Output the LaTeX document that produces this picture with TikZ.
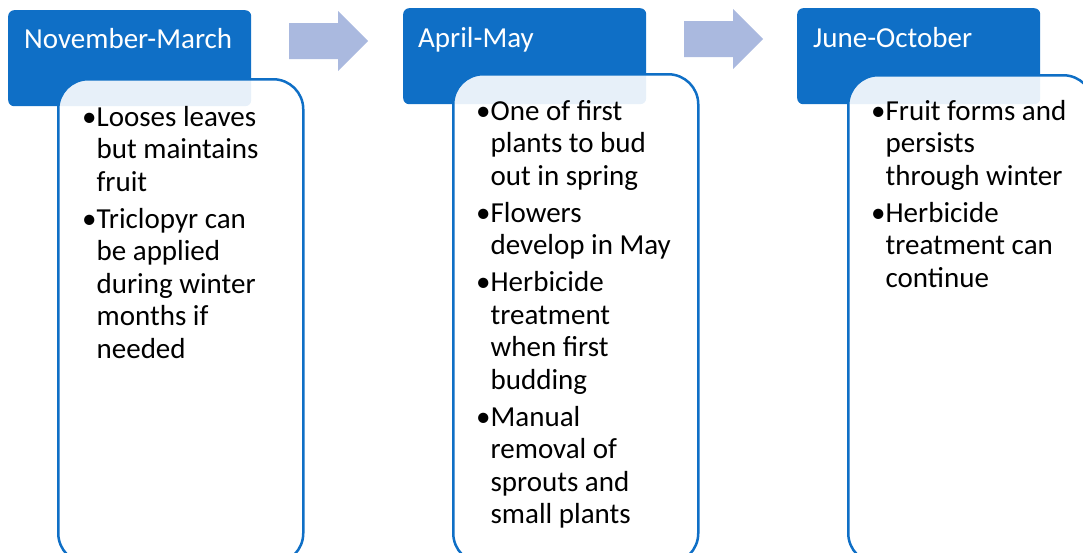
\documentclass[tikz,border=0pt]{standalone}
\usepackage{fontspec}
\setmainfont{Carlito}
\definecolor{hdrblue}{HTML}{0F6FC6}
\definecolor{arrowblue}{HTML}{AAB9DF}
\begin{document}
\begin{tikzpicture}[x=1pt,y=-1pt,
  hdrbox/.style={draw=none,fill=hdrblue,rounded corners=6pt,inner sep=0pt,
    minimum width=243pt,minimum height=96pt,anchor=north west},
  bodybox/.style={draw=hdrblue,line width=2.5pt,fill=white,fill opacity=0.9,
    rounded corners=30pt,inner sep=0pt,minimum width=245pt,anchor=north west},
  hdrtext/.style={text=white,font=\fontsize{29}{32.5}\selectfont,inner sep=0pt,anchor=base west},
  bodytext/.style={text=black,font=\fontsize{29}{32.5}\selectfont,inner sep=0pt,anchor=base west},
  blockarrow/.style={fill=arrowblue,draw=none}]
\useasboundingbox (0,0) rectangle (1083,552);
\clip (0,0) rectangle (1083,552);

% block arrows
\coordinate (a1) at (289,41);
\coordinate (a2) at (684,39);
\fill[blockarrow] (a1) ++(0,-18) -- ++(49,0) -- ++(0,-12) -- ++(30,30) -- ++(-30,30) -- ++(0,-12) -- ++(-49,0) -- cycle;
\fill[blockarrow] (a2) ++(0,-18) -- ++(49,0) -- ++(0,-12) -- ++(30,30) -- ++(-30,30) -- ++(0,-12) -- ++(-49,0) -- cycle;

% column 1
\node[hdrbox] (h1) at (8,10) {};
\node[hdrtext] (t1) at (24,48) {November-March};
\node[bodybox,minimum height=484pt] (b1) at (57,78) {};
\node[bodytext] (c1) at (82,126) {\begin{tabular}[t]{@{}l@{}l@{}}
•&Looses leaves\\&but maintains\\&fruit\\[4.5pt]
•&Triclopyr can\\&be applied\\&during winter\\&months if\\&needed
\end{tabular}};

% column 2
\node[hdrbox] (h2) at (403,8) {};
\node[hdrtext] (t2) at (418,47) {April-May};
\node[bodybox,minimum height=489pt] (b2) at (452,73) {};
\node[bodytext] (c2) at (476,120) {\begin{tabular}[t]{@{}l@{}l@{}}
•&One of first\\&plants to bud\\&out in spring\\[4.5pt]
•&Flowers\\&develop in May\\[4.5pt]
•&Herbicide\\&treatment\\&when first\\&budding\\[4.5pt]
•&Manual\\&removal of\\&sprouts and\\&small plants
\end{tabular}};

% column 3
\node[hdrbox] (h3) at (797,8) {};
\node[hdrtext] (t3) at (813,47) {June-October};
\node[bodybox,minimum height=488pt] (b3) at (847,74) {};
\node[bodytext] (c3) at (871,120) {\begin{tabular}[t]{@{}l@{}l@{}}
•&Fruit forms and\\&persists\\&through winter\\[4.5pt]
•&Herbicide\\&treatment can\\&continue
\end{tabular}};
\end{tikzpicture}
\end{document}
